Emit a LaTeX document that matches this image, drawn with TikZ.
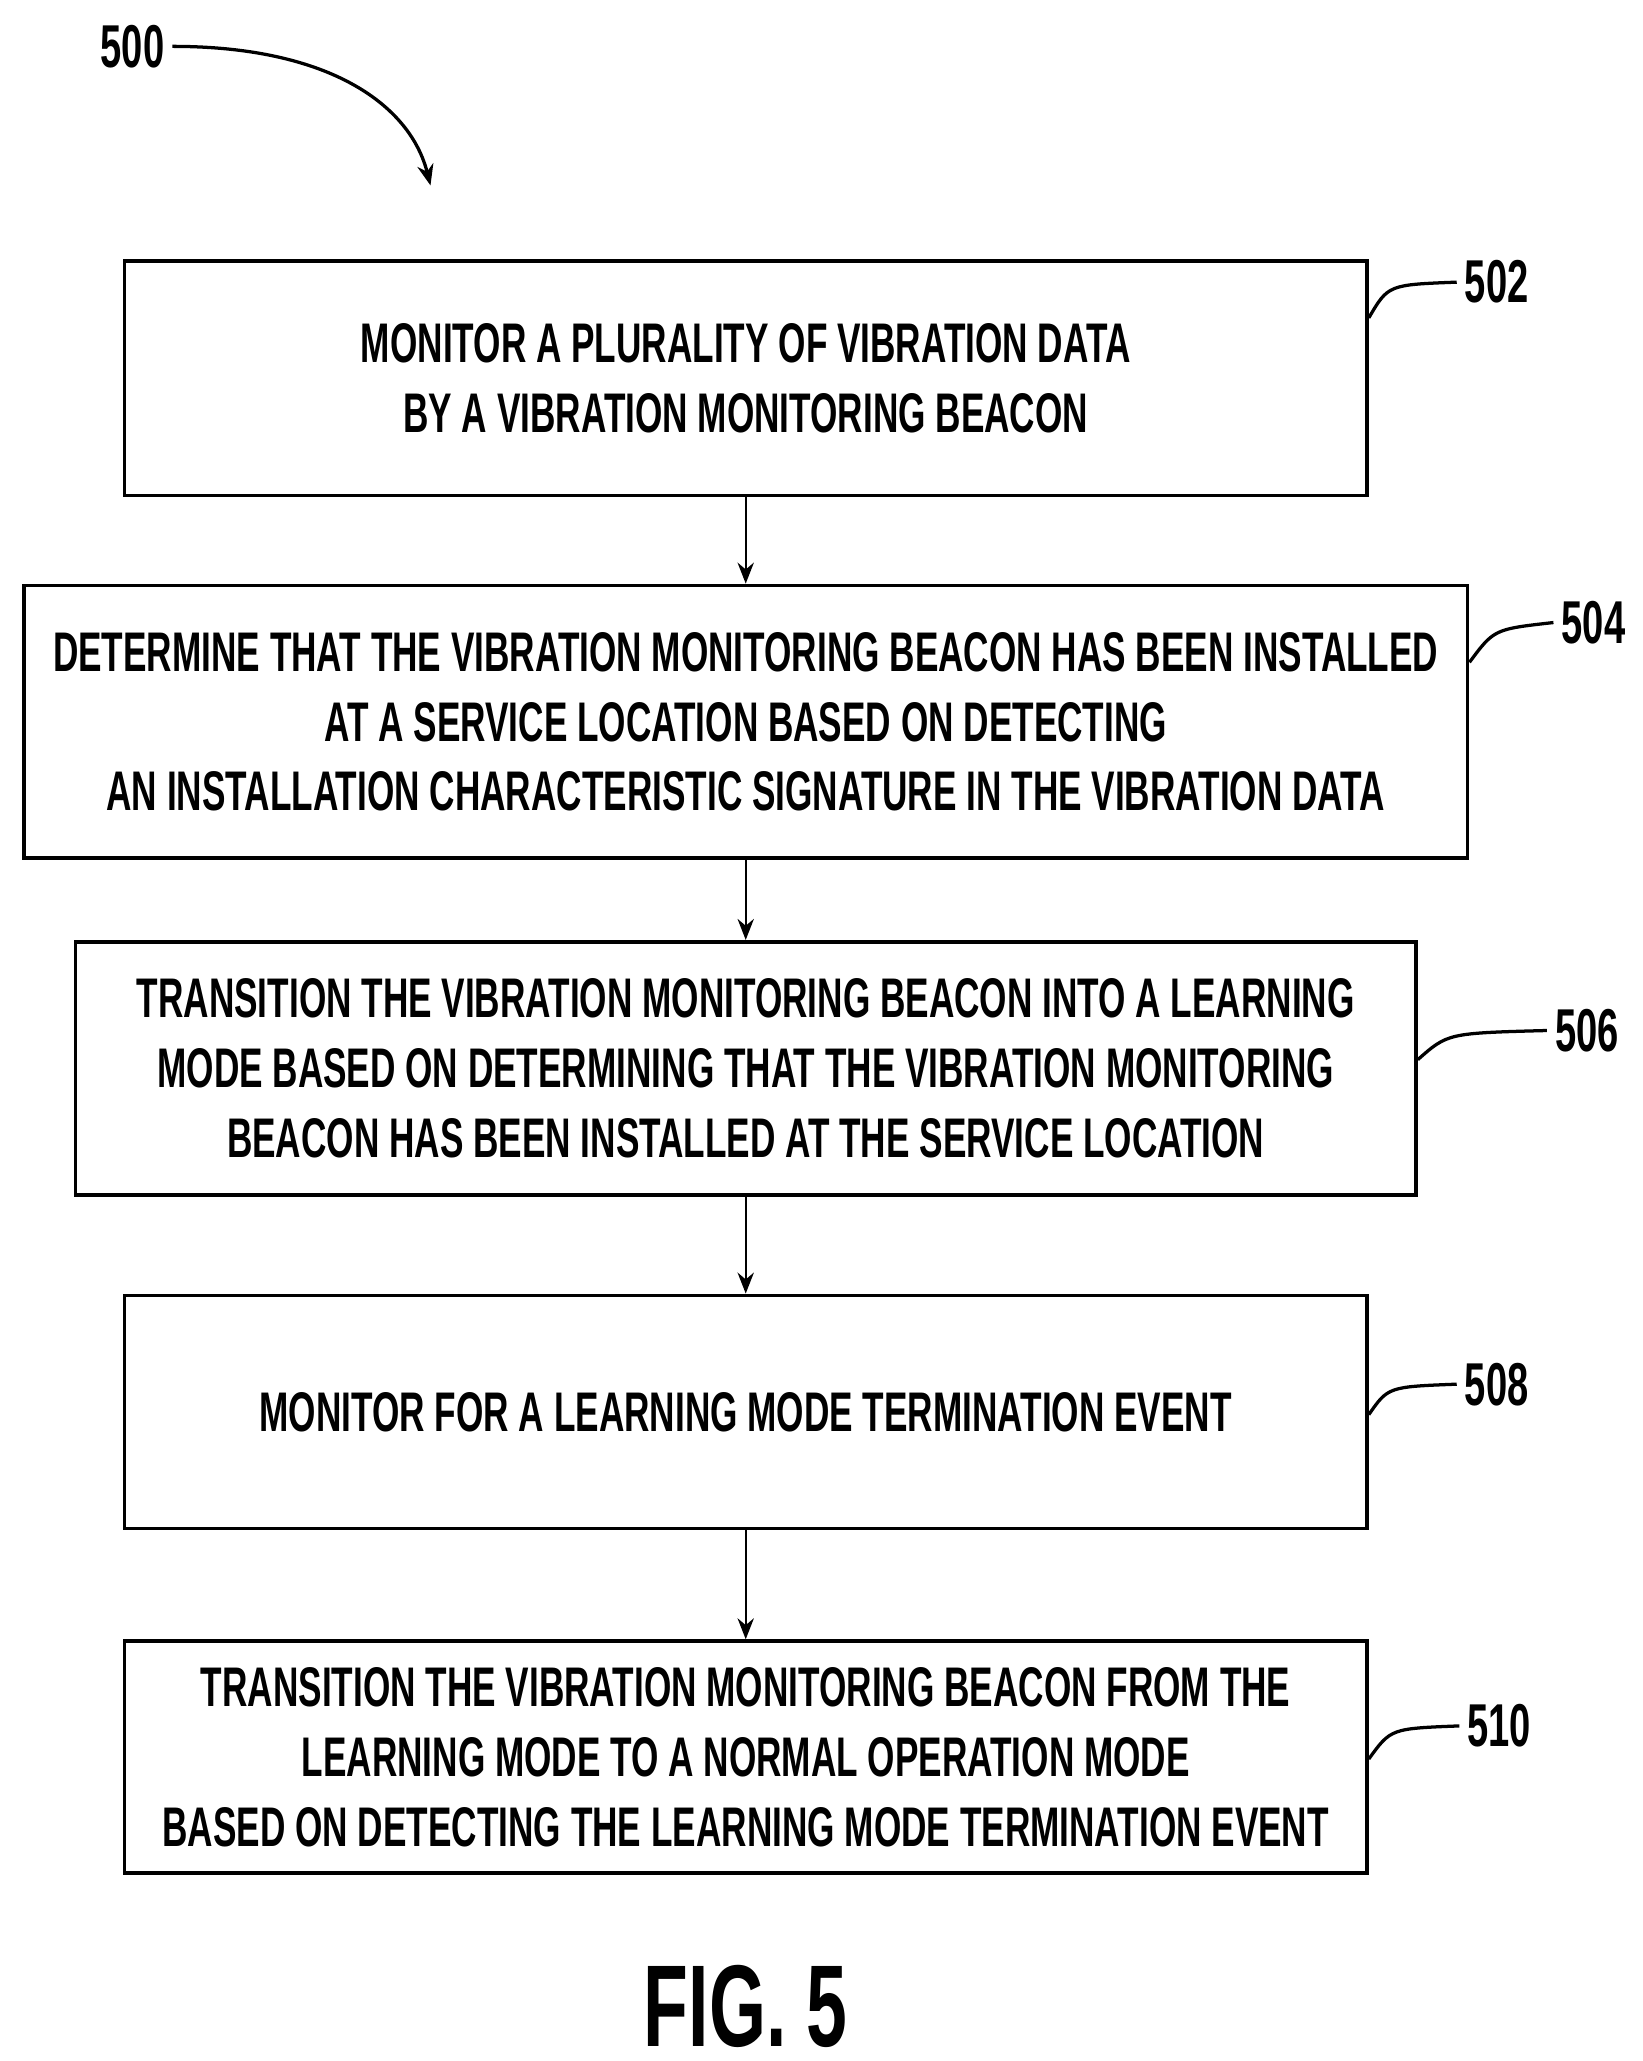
\documentclass[tikz,border=0pt]{standalone}
\usepackage{fontspec}
\setmainfont{Liberation Sans}[FakeStretch=0.63]
\usetikzlibrary{arrows.meta}
\begin{document}
\begin{tikzpicture}[x=0.02cm,y=-0.02cm,
  step/.style={draw,line width=1.6pt,minimum height=#1*0.02cm,align=center,font=\fontsize{24}{30}\selectfont\bfseries},
  tag/.style={font=\fontsize{26}{30}\selectfont\bfseries},
  flow/.style={-{Stealth[length=9pt,width=7pt]},line width=1pt}]
\useasboundingbox (0,0) rectangle (1240,1556);
\node[step=177,minimum width=938*0.02cm] (s502) at (563,285.5) {MONITOR A PLURALITY OF VIBRATION DATA\\BY A VIBRATION MONITORING BEACON};
\node[step=206,minimum width=1090*0.02cm] (s504) at (563,545) {DETERMINE THAT THE VIBRATION MONITORING BEACON HAS BEEN INSTALLED\\AT A SERVICE LOCATION BASED ON DETECTING\\AN INSTALLATION CHARACTERISTIC SIGNATURE IN THE VIBRATION DATA};
\node[step=191,minimum width=1012*0.02cm] (s506) at (563,806.5) {TRANSITION THE VIBRATION MONITORING BEACON INTO A LEARNING\\MODE BASED ON DETERMINING THAT THE VIBRATION MONITORING\\BEACON HAS BEEN INSTALLED AT THE SERVICE LOCATION};
\node[step=176,minimum width=938*0.02cm] (s508) at (563,1066) {MONITOR FOR A LEARNING MODE TERMINATION EVENT};
\node[step=175,minimum width=938*0.02cm] (s510) at (563,1326.5) {TRANSITION THE VIBRATION MONITORING BEACON FROM THE\\LEARNING MODE TO A NORMAL OPERATION MODE\\BASED ON DETECTING THE LEARNING MODE TERMINATION EVENT};
\draw[flow] (s502) -- (s504);
\draw[flow] (s504) -- (s506);
\draw[flow] (s506) -- (s508);
\draw[flow] (s508) -- (s510);
% reference numerals
\node[tag] (n502) at (1130,213) {502};
\node[tag] (n504) at (1203,470) {504};
\node[tag] (n506) at (1198,778) {506};
\node[tag] (n508) at (1130,1045) {508};
\node[tag] (n510) at (1132,1303) {510};
\draw[line width=1.4pt] (s502.east |- 0,240) .. controls (1048,215) .. (n502.west);
\draw[line width=1.4pt] (s504.east |- 0,500) .. controls (1128,475) .. (n504.west);
\draw[line width=1.4pt] (s506.east |- 0,800) .. controls (1093,780) .. (n506.west);
\draw[line width=1.4pt] (s508.east |- 0,1068) .. controls (1048,1047) .. (n508.west);
\draw[line width=1.4pt] (s510.east |- 0,1328) .. controls (1050,1305) .. (n510.west);
\node[tag] (n500) at (100,35) {500};
\draw[flow,line width=1.4pt] (n500.east) .. controls (250,35) and (310,80) .. (325,140);
\node[font=\fontsize{50}{56}\selectfont\bfseries,inner sep=0pt] (fig) at (563,1515) {FIG. 5};
\end{tikzpicture}
\end{document}
